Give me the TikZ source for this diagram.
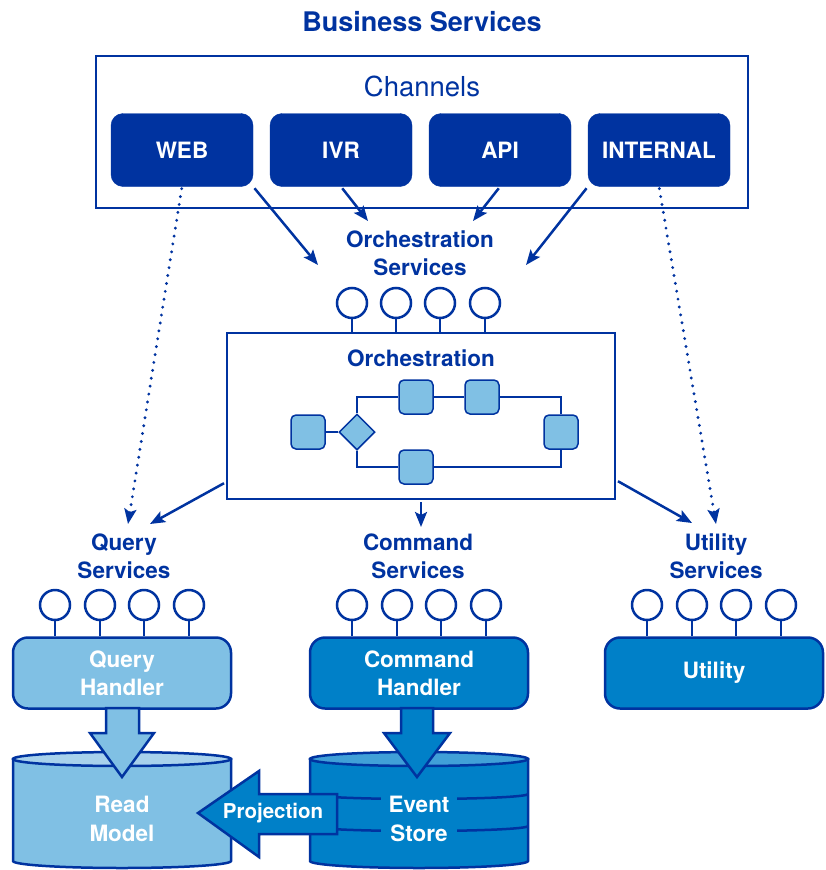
\documentclass[tikz,border=0pt]{standalone}
\usepackage{fontspec}
\setmainfont{TeX Gyre Heros}
\usetikzlibrary{arrows.meta, shapes.geometric, positioning}
\definecolor{navy}{RGB}{0,51,160}
\definecolor{paleblue}{RGB}{128,192,228}
\definecolor{paletop}{RGB}{168,210,236}
\definecolor{midblue}{RGB}{0,128,200}
\definecolor{midtop}{RGB}{64,160,216}
\tikzstyle{chan} = [rectangle, rounded corners=12pt, minimum width=142pt, minimum height=73pt, fill=navy, draw=navy, text=white, font=\fontsize{22.5}{26}\selectfont\bfseries]
\tikzstyle{svctext} = [text=navy, align=center, font=\fontsize{22.5}{28}\selectfont\bfseries]
\tikzstyle{port} = [circle, minimum size=30pt, inner sep=0pt, draw=navy, fill=white, line width=2.5pt]
\tikzstyle{stem} = [draw=navy, line width=2.5pt]
\tikzstyle{flowbox} = [rectangle, rounded corners=5pt, minimum size=34pt, inner sep=0pt, fill=paleblue, draw=navy, line width=1.5pt]
\tikzstyle{flowgate} = [diamond, minimum size=36pt, inner sep=0pt, fill=paleblue, draw=navy, line width=1.5pt]
\tikzstyle{flowline} = [draw=navy, line width=1.8pt]
\tikzstyle{handler} = [rectangle, rounded corners=15pt, minimum width=218pt, minimum height=71pt, draw=navy, line width=2.5pt, text=white, align=center, font=\fontsize{22.5}{28}\selectfont\bfseries]
\tikzstyle{store} = [draw=navy, line width=2.5pt]
\tikzstyle{storetext} = [text=white, align=center, inner xsep=8pt, inner ysep=0pt, font=\fontsize{22.5}{29}\selectfont\bfseries]
\tikzstyle{blockarrow} = [draw=navy, line width=2.5pt, line join=miter]
\tikzstyle{arrow} = [line width=2.5pt, draw=navy, -{Stealth[length=15pt, width=12pt, inset=3pt]}, shorten <=2pt]
\tikzstyle{dotarrow} = [arrow, line width=3.2pt, dash pattern=on 0pt off 8pt, line cap=round]

\begin{document}
\begin{tikzpicture}[x=1pt, y=-1pt]
\useasboundingbox (0,0) rectangle (825,870);

% title and channels
\node[text=navy, font=\fontsize{27}{30}\selectfont\bfseries] (title) at (422,22) {Business Services};
\node[draw=navy, line width=2.5pt, minimum width=652pt, minimum height=152pt] (channels) at (422,132) {};
\node[text=navy, font=\fontsize{27.5}{30}\selectfont] (chanlbl) at (422,86) {Channels};

\coordinate (os-w) at (318,265);
\coordinate (os-nw) at (368,221);
\coordinate (os-ne) at (473,221);
\coordinate (os-e) at (526,265);
\coordinate (qs-n) at (128,524);
\coordinate (us-n) at (716,524);

\node[chan] (web) at (182,150) {WEB};
\node[chan] (ivr) at (341,150) {IVR};
\node[chan] (api) at (500,150) {API};
\node[chan] (internal) at (659,150) {INTERNAL};

\draw[arrow] (web.south east) -- (os-w);
\draw[arrow] (ivr.south) -- (os-nw);
\draw[arrow] (api.south) -- (os-ne);
\draw[arrow] (internal.south west) -- (os-e);
\draw[dotarrow] (web.south) -- (qs-n);
\draw[dotarrow] (internal.south) -- (us-n);

% orchestration
\node[svctext] (orchsvc) at (420,253) {Orchestration\\Services};
\node[draw=navy, line width=2.5pt, fill=white, minimum width=388pt, minimum height=166pt] (orch) at (421,416) {};
\node[svctext, font=\fontsize{22.5}{26}\selectfont\bfseries] (orchlbl) at (421,358) {Orchestration};
\foreach \i/\x in {1/352,2/396,3/440,4/485} {
  \node[port] (op\i) at (\x,303) {};
  \draw[stem] (op\i.south) -- (op\i |- orch.north);
}

\node[flowbox] (f1) at (308,432) {};
\node[flowgate] (gate) at (357,432) {};
\node[flowbox] (f2) at (416,397) {};
\node[flowbox] (f3) at (482,397) {};
\node[flowbox] (f4) at (416,467) {};
\node[flowbox] (f5) at (561,432) {};
\draw[flowline] (f1) -- (gate);
\draw[flowline] (gate.north) |- (f2);
\draw[flowline] (f2) -- (f3);
\draw[flowline] (f3) -| (f5);
\draw[flowline] (gate.south) |- (f4);
\draw[flowline] (f4) -| (f5);

% services
\coordinate (qs-ne) at (150,524);
\coordinate (cs-n) at (421,527);
\coordinate (us-nw) at (692,523);
\draw[arrow] ([yshift=18pt]orch.south west) -- (qs-ne);
\draw[arrow] (orch.south) -- (cs-n);
\draw[arrow] ([yshift=20pt]orch.south east) -- (us-nw);

\node[svctext] (qsvc) at (124,556) {Query\\Services};
\node[svctext] (csvc) at (418,556) {Command\\Services};
\node[svctext] (usvc) at (716,556) {Utility\\Services};

\node[handler, fill=paleblue] (qh) at (122,673) {Query\\Handler};
\node[handler, fill=midblue] (ch) at (419,673) {Command\\Handler};
\node[handler, fill=midblue] (uh) at (714,673) {Utility};

\foreach \i/\x in {1/55,2/100,3/144,4/189} {
  \node[port] (qp\i) at (\x,605) {};
  \draw[stem] (qp\i.south) -- (qp\i |- qh.north);
}
\foreach \i/\x in {1/352,2/397,3/441,4/486} {
  \node[port] (cp\i) at (\x,605) {};
  \draw[stem] (cp\i.south) -- (cp\i |- ch.north);
}
\foreach \i/\x in {1/647,2/692,3/736,4/781} {
  \node[port] (up\i) at (\x,605) {};
  \draw[stem] (up\i.south) -- (up\i |- uh.north);
}

% stores
\draw[store, fill=paleblue] (13,759) -- (13,861) arc[start angle=180, end angle=360, x radius=109pt, y radius=7pt] -- (231,759) -- cycle;
\draw[store, fill=paletop] (122,759) ellipse [x radius=109pt, y radius=7pt];
\draw[store, fill=midblue] (310,759) -- (310,861) arc[start angle=180, end angle=360, x radius=109pt, y radius=7pt] -- (528,759) -- cycle;
\draw[store, fill=midtop] (419,759) ellipse [x radius=109pt, y radius=7pt];
\draw[store] (310,794) arc[start angle=180, end angle=360, x radius=109pt, y radius=5pt];
\draw[store] (310,826) arc[start angle=180, end angle=360, x radius=109pt, y radius=5pt];

\node[storetext] (readmodel) at (122,819) {Read\\Model};
\node[storetext, fill=midblue] (eventstore) at (419,819) {Event\\Store};

\draw[blockarrow, fill=paleblue] (106,708) -- (106,733) -- (90,733) -- (122,777) -- (154,733) -- (139,733) -- (139,708) -- cycle;
\draw[blockarrow, fill=midblue] (401,708) -- (401,733) -- (384,733) -- (417,777) -- (450,733) -- (433,733) -- (433,708) -- cycle;
\draw[blockarrow, fill=midblue] (337,794) -- (259,794) -- (259,771) -- (198,813) -- (259,857) -- (259,834) -- (337,834) -- cycle;
\node[text=white, font=\fontsize{20.5}{24}\selectfont\bfseries] (proj) at (273,813) {Projection};

\end{tikzpicture}
\end{document}
